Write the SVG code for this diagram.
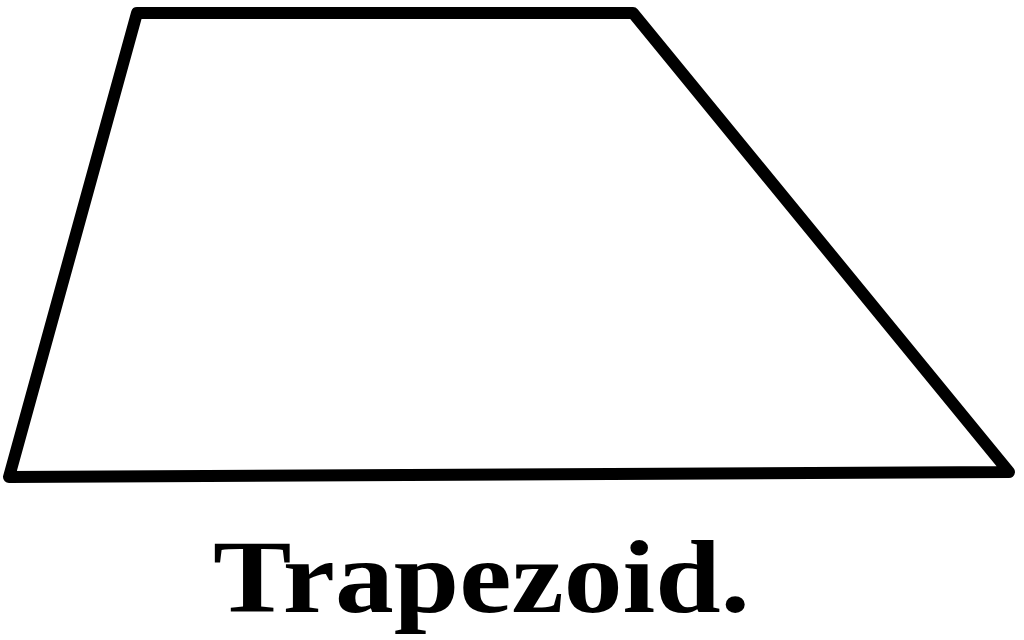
<svg xmlns="http://www.w3.org/2000/svg" width="1024" height="640" viewBox="0 0 1024 640">
<style>
.shape{fill:#fff;stroke:#000;stroke-width:12;stroke-linejoin:round;stroke-linecap:round}
.label{font-family:"Liberation Serif","Times New Roman",serif;font-weight:bold;font-size:104px;fill:#000}
</style>
<rect width="1024" height="640" fill="#fff"/>
<g id="trapezoid">
<polygon class="shape" points="137,13 633,13 1009,472 9,477"/>
</g>
<g id="caption">
<text class="label" x="213" y="612" textLength="537" lengthAdjust="spacingAndGlyphs">Trapezoid.</text>
</g>
</svg>
